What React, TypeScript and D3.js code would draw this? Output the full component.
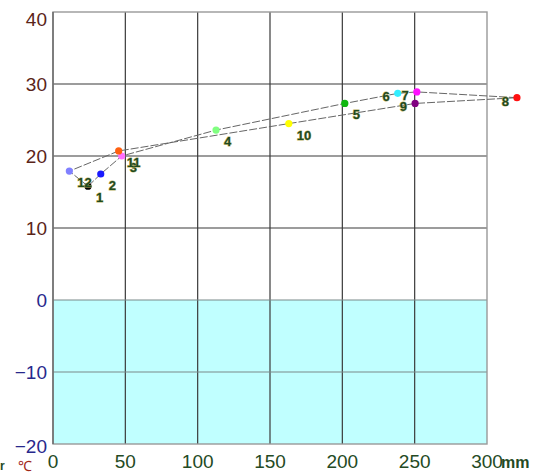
import React from "react";
import * as d3 from "d3";

const months = ["1", "2", "3", "4", "5", "6", "7", "8", "9", "10", "11", "12"];
const precip = [24.2, 33.0, 47.5, 112.7, 201.7, 238.3, 251.5, 320.7, 250.3, 163.0, 45.4, 11.3];
const temps = [15.8, 17.5, 20.0, 23.6, 27.3, 28.7, 28.9, 28.1, 27.3, 24.5, 20.7, 17.9];
const pointColors = ["#000000", "#1a1aff", "#ff70ff", "#80ff80", "#10b810", "#33eeff", "#ff10ff", "#ff1010", "#800080", "#ffff00", "#ff6010", "#8080ff"];
const xTicks = [0, 50, 100, 150, 200, 250, 300];
const yTicks = [40, 30, 20, 10, 0, -10, -20];

const W = 535;
const H = 473;

export default function App() {
  const x = d3.scaleLinear().domain([0, 300]).range([53, 487]);
  const y = d3.scaleLinear().domain([-20, 40]).range([444, 12]);
  const pts = months.map((m, i) => ({ m, mm: precip[i], t: temps[i], c: pointColors[i] }));
  const line = d3
    .line<{ mm: number; t: number }>()
    .x((d) => x(d.mm))
    .y((d) => y(d.t));
  const closed = [...pts, pts[0]];

  return (
    <svg
      width={W}
      height={H}
      style={{ position: "absolute", left: 0, top: 0, background: "#fff" }}
      fontFamily="Arial, 'Liberation Sans', sans-serif"
    >
      <rect x={x(0)} y={y(0)} width={x(300) - x(0)} height={y(-20) - y(0)} fill="#c0ffff" />
      {xTicks.slice(1, -1).map((t) => (
        <line key={"vx" + t} x1={x(t)} x2={x(t)} y1={y(40)} y2={y(-20)} stroke="#3a3a3a" strokeWidth={1.2} />
      ))}
      {yTicks.slice(1, -1).map((t) => (
        <line key={"hy" + t} x1={x(0)} x2={x(300)} y1={y(t)} y2={y(t)} stroke={t <= 0 ? "#7a8a8a" : "#3a3a3a"} strokeWidth={1.2} />
      ))}
      <rect x={x(0)} y={y(40)} width={x(300) - x(0)} height={y(-20) - y(40)} fill="none" stroke="#999" strokeWidth={1.4} />
      <line x1={x(0)} x2={x(0)} y1={y(40)} y2={y(-20)} stroke="#666" strokeWidth={1.4} />

      {yTicks.map((t, i) => {
        let yy = y(t);
        if (i === 0) yy = Math.max(yy, 19);
        if (i === yTicks.length - 1) yy += 2;
        return (
          <text key={"yl" + t} x={47} y={yy} dy="0.36em" textAnchor="end" fontSize={19} fill={t > 0 ? "#5a2418" : "#28288c"}>
            {t < 0 ? "\u2212" + Math.abs(t) : t}
          </text>
        );
      })}
      {xTicks.map((t) => (
        <text key={"xl" + t} x={x(t)} y={468} textAnchor="middle" fontSize={19} fill="#244a24">
          {t}
        </text>
      ))}
      <text x={501} y={468} fontSize={16} fontWeight="bold" fill="#244a24">mm</text>
      <text x={18} y={471} fontSize={14} fill="#a02818">℃</text>
      <text x={0} y={470} fontSize={12} fontWeight="bold" fill="#244a24">r</text>

      <path d={line(closed) || ""} fill="none" stroke="#666" strokeWidth={1} strokeDasharray="8 2" />
      {pts.map((p) => (
        <circle key={"c" + p.m} cx={x(p.mm)} cy={y(p.t)} r={3.6} fill={p.c} />
      ))}
      {pts.map((p) => {
        const left = p.mm > 230;
        return (
          <text
            key={"l" + p.m}
            x={left ? x(p.mm) - 8 : x(p.mm) + 8}
            y={left ? y(p.t) + 8 : y(p.t) + 16}
            textAnchor={left ? "end" : "start"}
            fontSize={13}
            fontWeight="bold"
            fill="#1f4a1f"
            stroke="#b8b060"
            strokeWidth={0.8}
            paintOrder="stroke"
          >
            {p.m}
          </text>
        );
      })}
    </svg>
  );
}
